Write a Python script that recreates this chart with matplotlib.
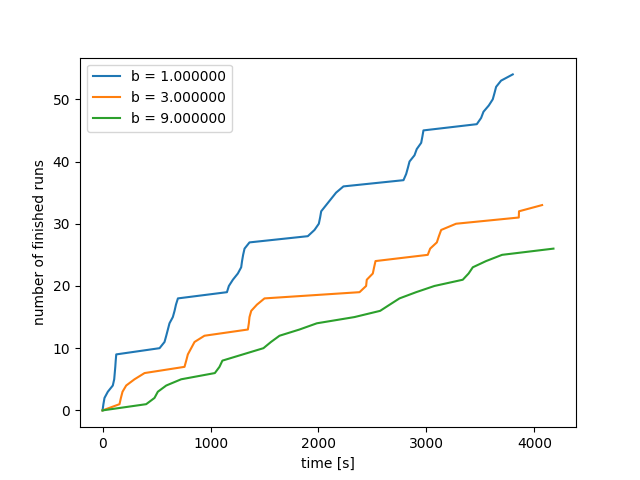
import matplotlib
matplotlib.use("Agg")
import matplotlib.pyplot as plt

labels = ["b = 1.000000", "b = 3.000000", "b = 9.000000"]

t_b1 = [0, 8, 18, 49, 95, 108, 113, 118, 122, 127, 528, 574, 590, 605, 620, 651, 667, 680, 698,
        1152, 1170, 1207, 1253, 1284, 1292, 1302, 1315, 1361, 1901, 1963, 2003, 2015, 2025, 2071,
        2117, 2163, 2231, 2787, 2812, 2828, 2843, 2889, 2910, 2951, 2962, 2972, 3466, 3506, 3528,
        3577, 3614, 3630, 3645, 3691, 3799]
n_b1 = list(range(len(t_b1)))

t_b3 = [0, 157, 170, 185, 219, 296, 389, 759, 775, 790, 821, 852, 944, 1346, 1355, 1361, 1377,
        1430, 1500, 2380, 2441, 2447, 2503, 2515, 2528, 3012, 3034, 3096, 3115, 3136, 3274, 3855,
        3857, 4071]
n_b3 = list(range(len(t_b3)))

t_b9 = [0, 404, 481, 512, 590, 728, 1040, 1083, 1110, 1300, 1490, 1560, 1639, 1824, 1985, 2333,
        2571, 2660, 2750, 2904, 3074, 3336, 3390, 3429, 3552, 3700, 4176]
n_b9 = list(range(len(t_b9)))

fig, ax = plt.subplots(figsize=(6.4, 4.8), dpi=100)
for t, n, lab in [(t_b1, n_b1, labels[0]), (t_b3, n_b3, labels[1]), (t_b9, n_b9, labels[2])]:
    ax.plot(t, n, label=lab)
ax.set_xlabel("time [s]")
ax.set_ylabel("number of finished runs")
ax.legend(loc="upper left")
fig.savefig("out.png")
